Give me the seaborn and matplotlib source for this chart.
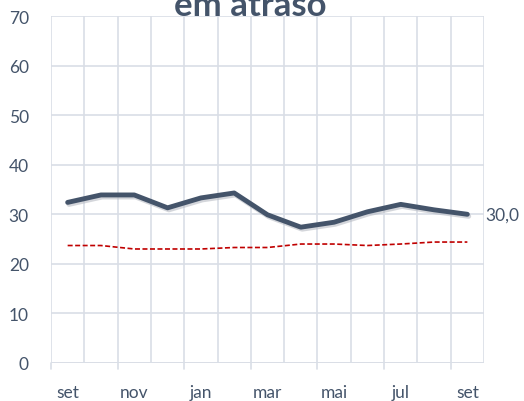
import matplotlib
matplotlib.use("Agg")
import matplotlib.pyplot as plt
import seaborn as sns
import pandas as pd
import numpy as np

# monthly values, set .. set
months = ["set", "out", "nov", "dez", "jan", "fev", "mar", "abr", "mai", "jun", "jul", "ago", "set2"]
atraso = [32.4, 33.9, 33.9, 31.3, 33.3, 34.3, 29.9, 27.4, 28.4, 30.5, 32.0, 30.9, 30.0]
referencia = [23.7, 23.7, 23.0, 23.0, 23.0, 23.3, 23.3, 24.0, 24.0, 23.7, 24.0, 24.4, 24.4]
tick_labels = ["set", "nov", "jan", "mar", "mai", "jul", "set"]

slate = "#44546A"
grid_c = "#D9DEE6"

sns.set_style("white")
plt.rcParams["font.family"] = ["Lato", "DejaVu Sans"]

df = pd.DataFrame({"pos": np.arange(len(months)), "atraso": atraso, "ref": referencia})

fig = plt.figure(figsize=(5.24, 4.02), dpi=100)
ax = fig.add_axes([51 / 524, 1 - 364 / 402, (484 - 51) / 524, (364 - 17) / 402])

sns.lineplot(data=df, x="pos", y="ref", ax=ax, color="#C00000", lw=1.2,
             linestyle=(0, (3, 1.5)))
# soft shadow under the main line
sns.lineplot(x=df["pos"] + 0.04, y=df["atraso"] - 0.4, ax=ax, color="#B8BCC4",
             lw=3.6, alpha=0.6, solid_capstyle="round")
sns.lineplot(data=df, x="pos", y="atraso", ax=ax, color=slate, lw=3.5,
             solid_capstyle="round", solid_joinstyle="round")

ax.set_xlim(-0.5, len(months) - 0.5)
ax.set_ylim(0, 70)
ax.set_yticks(range(0, 71, 10))
ax.set_xticks(np.arange(-0.5, len(months), 1), minor=True)
ax.set_xticks(np.arange(0, len(months), 2))
ax.set_xticklabels(tick_labels)
ax.grid(True, which="major", axis="y", color=grid_c, lw=1.2)
ax.grid(True, which="minor", axis="x", color=grid_c, lw=1.2)
ax.set_axisbelow(True)
for s in ax.spines.values():
    s.set_visible(False)
ax.axhline(0, color=grid_c, lw=1.2, zorder=0)
ax.set_xlabel("")
ax.set_ylabel("")
ax.tick_params(axis="both", which="both", length=0, labelsize=12.5, colors="#44546A")
ax.tick_params(axis="y", pad=16)
ax.tick_params(axis="x", pad=15)
# small tick marks below the axis at every second boundary
for xb in np.arange(-0.5, len(months), 2):
    ax.plot([xb, xb], [0, -1.3], color=grid_c, lw=1.2, clip_on=False)

ax.text(len(months) - 1 + 0.55, atraso[-1], "30,0", fontsize=12.5, color=slate,
        va="center", ha="left", clip_on=False)

fig.text(250 / 524, 1 - 16 / 402, "em atraso", fontsize=25, fontweight="bold",
         color=slate, ha="center", va="baseline")

fig.savefig("out.png", dpi=100)
